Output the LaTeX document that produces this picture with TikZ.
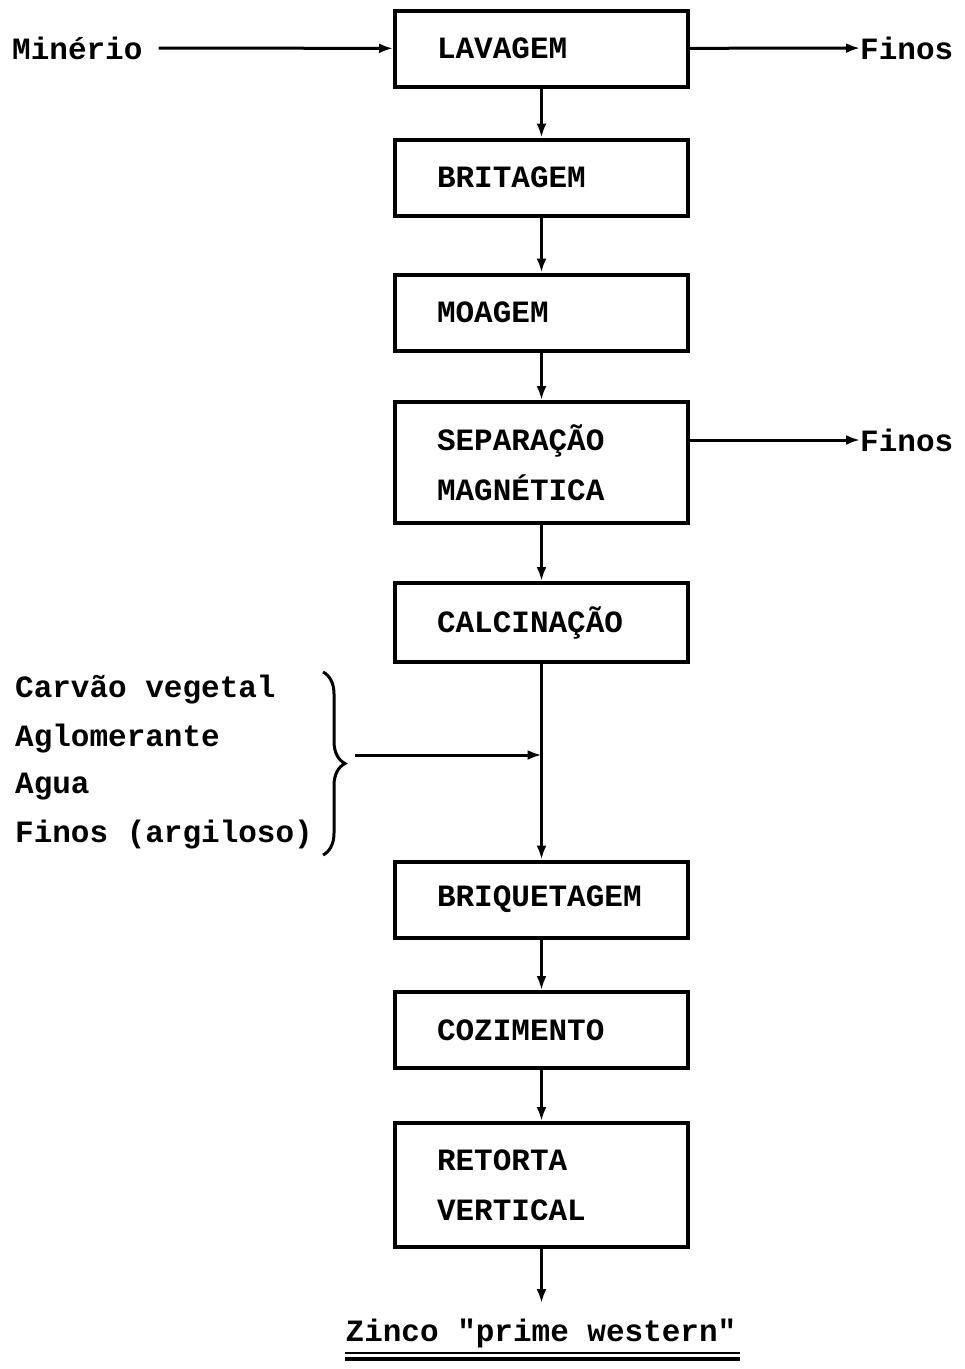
\documentclass[tikz,border=0pt]{standalone}
\usepackage{fontspec}
\setmainfont{Liberation Mono}[Ligatures=TeXOff]
\usetikzlibrary{arrows.meta,decorations.pathreplacing}
\begin{document}
\begin{tikzpicture}[x=1pt,y=-1pt,
	font=\fontsize{31}{50}\selectfont\bfseries,
	etapa/.style={draw,line width=4pt,text width=209pt,inner xsep=42pt,align=left,minimum height=76pt},
	seta/.style={line width=3pt,-{Latex[length=14pt,width=10pt]}},
	rotulo/.style={inner sep=0pt,anchor=west}]
	\useasboundingbox (0,0) rectangle (965,1369);
	\node[etapa] (lavagem) at (541.5,48.5) {LAVAGEM};
	\node[etapa] (britagem) at (541.5,177.5) {BRITAGEM};
	\node[etapa] (moagem) at (541.5,312.5) {MOAGEM};
	\node[etapa,minimum height=121pt] (separacao) at (541.5,462.5) {SEPARAÇÃO\\MAGNÉTICA};
	\node[etapa,minimum height=79pt] (calcinacao) at (541.5,622.5) {CALCINAÇÃO};
	\node[etapa] (briquetagem) at (541.5,899.5) {BRIQUETAGEM};
	\node[etapa] (cozimento) at (541.5,1030) {COZIMENTO};
	\node[etapa,minimum height=124pt] (retorta) at (541.5,1185) {RETORTA\\VERTICAL};
	\node[rotulo] (minerio) at (12,48) {Minério};
	\node[rotulo] (finos1) at (860,48) {Finos};
	\node[rotulo] (finos2) at (860,440) {Finos};
	\node[rotulo] (carvao) at (15,690) {Carvão vegetal};
	\node[rotulo] (aglomerante) at (15,739) {Aglomerante};
	\node[rotulo] (agua) at (15,787) {Agua};
	\node[rotulo] (finos3) at (15,835) {Finos (argiloso)};
	\node[inner sep=0pt] (zinco) at (541,1333) {Zinco "prime western"};
	\coordinate (saida) at (541.5,1303);
	\draw[seta,shorten <=16pt] (minerio) -- (lavagem);
	\draw[seta] (lavagem) -- (finos1);
	\draw[seta] (lavagem) -- (britagem);
	\draw[seta] (britagem) -- (moagem);
	\draw[seta] (moagem) -- (separacao);
	\draw[seta] (separacao.east |- finos2) -- (finos2);
	\draw[seta] (separacao) -- (calcinacao);
	\draw[seta] (calcinacao) -- (briquetagem);
	\draw[line width=3pt,decorate,decoration={brace,amplitude=22pt}] (323,672) -- (323,855);
	\coordinate (ponta) at (355,755);
	\coordinate (juncao) at (calcinacao.south |- ponta);
	\draw[seta] (ponta) -- (juncao);
	\draw[seta] (briquetagem) -- (cozimento);
	\draw[seta] (cozimento) -- (retorta);
	\draw[seta] (retorta) -- (saida);
	\draw[line width=2pt] ([yshift=-12pt]zinco.base west) -- ++(395,0);
	\draw[line width=3.5pt] ([yshift=-18pt]zinco.base west) -- ++(395,0);
\end{tikzpicture}
\end{document}
